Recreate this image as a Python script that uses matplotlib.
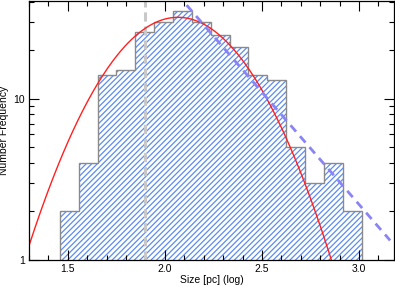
import matplotlib
matplotlib.use("Agg")
import matplotlib.pyplot as plt
from matplotlib.ticker import LogLocator, FixedLocator, MultipleLocator, NullFormatter
import numpy as np

# histogram of log sizes
bin_edges = [1.459, 1.556, 1.653, 1.75, 1.848, 1.945, 2.042, 2.139, 2.236,
             2.333, 2.43, 2.527, 2.625, 2.722, 2.819, 2.916, 3.013]
counts = [2, 4, 14, 15, 26, 30, 35, 30, 25, 21, 14, 13, 5, 3, 4, 2]

# gaussian fit (red)
gauss_amp = 32.0
gauss_mu = 2.067
gauss_sigma = 0.30

# power-law tail (blue dashed): log10(N) = a + b * x
tail_x = [2.112, 3.16]
tail_a = 1.581 + 1.395 * 2.112
tail_b = -1.395

# completeness / cut line
cut_x = 1.90


def main():
    plt.rcParams['font.family'] = ['Liberation Sans', 'DejaVu Sans']
    plt.rcParams['hatch.linewidth'] = 0.9

    fig = plt.figure(figsize=(3.95, 2.87), dpi=100)
    ax = fig.add_axes([0.0734, 0.0955, 0.9241, 0.901])

    # hatched fill in blue, outline in gray
    edges = np.array(bin_edges)
    vals = np.array(counts, dtype=float)
    ax.stairs(vals, edges, baseline=1e-3, fill=True, facecolor='none',
              edgecolor='#5b8cf2', hatch='//////', linewidth=0)
    ax.stairs(vals, edges, baseline=1e-3, fill=False,
              edgecolor='#8a8a8a', linewidth=1.0)

    ax.axvline(cut_x, color='#c8c8c8', linestyle=(0, (3, 1.6)), linewidth=2.2)

    xs = np.linspace(1.3, 3.18, 300)
    ys = gauss_amp * np.exp(-(xs - gauss_mu) ** 2 / (2 * gauss_sigma ** 2))
    ax.plot(xs, ys, color='#ff2020', linewidth=1.0)

    tx = np.array(tail_x)
    ax.plot(tx, 10 ** (tail_a + tail_b * tx), color='#8a84f5',
            linestyle=(0, (3, 2.2)), linewidth=2.0)

    ax.set_yscale('log')
    ax.set_xlim(1.3, 3.18)
    ax.set_ylim(1, 40.4)

    ax.xaxis.set_major_locator(FixedLocator([1.5, 2.0, 2.5, 3.0]))
    ax.xaxis.set_minor_locator(MultipleLocator(0.1))
    ax.set_xticklabels(['1.5', '2.0', '2.5', '3.0'])
    ax.yaxis.set_major_locator(FixedLocator([1, 10]))
    ax.yaxis.set_minor_locator(LogLocator(base=10, subs=np.arange(2, 10)))
    ax.yaxis.set_minor_formatter(NullFormatter())
    ax.set_yticklabels(['1', '10'])

    ax.tick_params(which='both', direction='in', top=True, right=True,
                   labelsize=7.5, width=0.8, pad=3)
    ax.tick_params(which='major', length=7)
    ax.tick_params(which='minor', length=3.5)
    for s in ax.spines.values():
        s.set_linewidth(0.9)

    ax.set_xlabel('Size [pc] (log)', fontsize=7.5, labelpad=1)
    ax.set_ylabel('Number Frequency', fontsize=7.5, labelpad=3)

    fig.savefig('out.png', dpi=100)


if __name__ == "__main__":
    main()
